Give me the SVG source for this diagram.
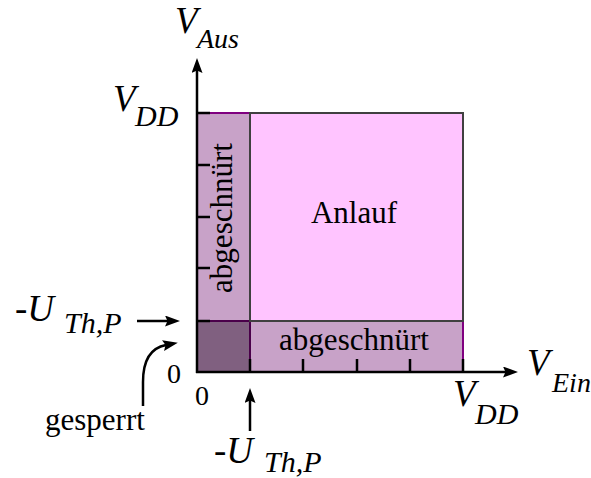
<svg xmlns="http://www.w3.org/2000/svg" width="591" height="478" viewBox="0 0 591 478">
<style>
text{font-family:'Liberation Serif','DejaVu Serif','Times New Roman',Times,serif;fill:#000}
.i{font-style:italic}
.ax{stroke:#000;stroke-width:2.5;fill:none}
.tk{stroke:#000;stroke-width:2.5}
.ar{stroke:#000;stroke-width:2.5;fill:none}
</style>
<defs>
<marker id="ah" viewBox="0 0 15 11" refX="3" refY="5.5" markerWidth="15" markerHeight="11" markerUnits="userSpaceOnUse" orient="auto">
<path d="M0,0 L15,5.5 L0,11 L2.5,5.5 z" fill="#000"/>
</marker>
</defs>
<rect width="591" height="478" fill="#fff"/>
<g id="abgeschnuert-links">
<rect x="197" y="113" width="53" height="208" fill="#c8a2c8" stroke="#800080" stroke-width="2"/>
<text font-size="31" text-anchor="middle" transform="translate(232,218) rotate(-90)">abgeschnürt</text>
</g>
<g id="abgeschnuert-unten">
<rect x="250" y="321" width="213" height="51" fill="#c8a2c8" stroke="#800080" stroke-width="2"/>
<text x="354" y="350" font-size="31" text-anchor="middle">abgeschnürt</text>
</g>
<g id="gesperrt-region">
<rect x="197" y="321" width="53" height="51" fill="#806080" stroke="#4a004a" stroke-width="2"/>
</g>
<g id="anlauf">
<rect x="250" y="113" width="213" height="208" fill="#ffc4ff" stroke="#404040" stroke-width="2"/>
<text x="354" y="223" font-size="31" text-anchor="middle">Anlauf</text>
</g>
<g id="connectors">
<line class="ax" x1="197" y1="373" x2="197" y2="70" marker-end="url(#ah)"/>
<line class="ax" x1="196" y1="372" x2="506" y2="372" marker-end="url(#ah)"/>
<line class="tk" x1="197" y1="113" x2="210" y2="113"/>
<line class="tk" x1="197" y1="165" x2="210" y2="165"/>
<line class="tk" x1="197" y1="217" x2="210" y2="217"/>
<line class="tk" x1="197" y1="268" x2="210" y2="268"/>
<line class="tk" x1="197" y1="321" x2="210" y2="321"/>
<line class="tk" x1="250" y1="372" x2="250" y2="359"/>
<line class="tk" x1="303" y1="372" x2="303" y2="359"/>
<line class="tk" x1="357" y1="372" x2="357" y2="359"/>
<line class="tk" x1="410" y1="372" x2="410" y2="359"/>
<line class="tk" x1="463" y1="372" x2="463" y2="359"/>
<line class="ar" x1="137" y1="321" x2="168" y2="321" marker-end="url(#ah)"/>
<line class="ar" x1="250" y1="431" x2="250" y2="400" marker-end="url(#ah)"/>
<path class="ar" d="M143,406 L143,382 C143,362 150,348 166,345" marker-end="url(#ah)"/>
</g>
<g id="label-vaus">
<text class="i" x="175" y="33" font-size="37">V</text>
<text class="i" x="197" y="48" font-size="28">Aus</text>
</g>
<g id="label-vdd-y">
<text class="i" x="113" y="111" font-size="37">V</text>
<text class="i" x="135" y="126" font-size="30">DD</text>
</g>
<g id="label-vdd-x">
<text class="i" x="453" y="406" font-size="37">V</text>
<text class="i" x="475" y="424" font-size="30">DD</text>
</g>
<g id="label-vein">
<text class="i" x="527" y="375" font-size="37">V</text>
<text class="i" x="552" y="392" font-size="28">Ein</text>
</g>
<g id="label-uth-y">
<text class="i" x="15" y="321" font-size="37">-U</text>
<text class="i" x="64" y="333" font-size="30">Th,P</text>
</g>
<g id="label-uth-x">
<text class="i" x="214" y="463" font-size="37">-U</text>
<text class="i" x="264" y="472" font-size="30">Th,P</text>
</g>
<g id="label-zero-y"><text x="167" y="383" font-size="28">0</text></g>
<g id="label-zero-x"><text x="195" y="405" font-size="28">0</text></g>
<g id="label-gesperrt"><text x="45" y="430" font-size="31">gesperrt</text></g>
</svg>
